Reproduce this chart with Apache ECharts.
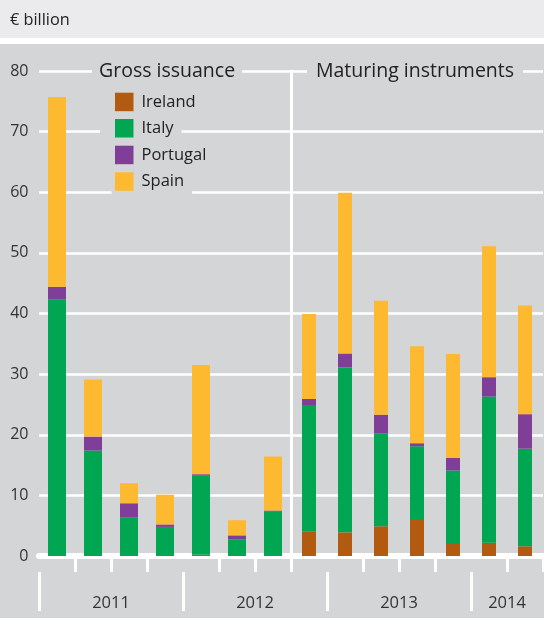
<!DOCTYPE html>
<html>
<head>
<meta charset="utf-8">
<script src="https://cdn.jsdelivr.net/npm/echarts@6/dist/echarts.min.js"></script>
<style>
html,body{margin:0;padding:0;background:#d4d5d7;}
#chart{width:544px;height:618px;}
</style>
</head>
<body>
<div id="chart"></div>
<script>
// ---- data ----
const categories = ['2011 Q1','2011 Q2','2011 Q3','2011 Q4','2012 Q1','2012 Q2','2012 Q3',
                    '2012 Q4','2013 Q1','2013 Q2','2013 Q3','2013 Q4','2014 Q1','2014 Q2'];
const seriesNames = ['Ireland','Italy','Portugal','Spain'];
const ireland  = [0, 0, 0, 0, 0.2, 0, 0,        4.0, 3.9, 4.9, 6.1, 2.0, 2.2, 1.6];
const italy    = [42.3, 17.4, 6.4, 4.8, 13.1, 2.7, 7.3,  20.9, 27.2, 15.3, 12.0, 12.1, 24.1, 16.1];
const portugal = [2.1, 2.3, 2.3, 0.4, 0.2, 0.7, 0.2,   1.0, 2.3, 3.1, 0.5, 2.1, 3.2, 5.7];
const spain    = [31.3, 9.4, 3.3, 4.9, 18.0, 2.5, 8.9,  14.0, 26.5, 18.8, 16.0, 17.1, 21.6, 17.9];
const years = ['2011','2012','2013','2014'];
const quartersPerYear = [4, 4, 4, 2];
const panelTitles = ['Gross issuance', 'Maturing instruments'];
const grossCount = 7;   // first 7 quarters are gross issuance
const unitLabel = '€ billion';

// ---- styles ----
const colors = ['#b15a10', '#00a651', '#7f3f98', '#fdb92f'];
const BG = '#d4d5d7';
const FONT = 'Open Sans';
const TXT = '#222';

const values = [ireland, italy, portugal, spain];
const nQ = categories.length;

// year boundaries / centers in quarter units
const yearStarts = [];
const yearCenters = [];
let acc = 0;
quartersPerYear.forEach(q => { yearStarts.push(acc); yearCenters.push(acc + q / 2); acc += q; });
const shortTicks = [];
for (let i = 0; i <= nQ; i++) if (yearStarts.indexOf(i) < 0) shortTicks.push(i);

const series = [];
seriesNames.forEach((name, k) => {
  series.push({
    name, type: 'bar', stack: 'gross', xAxisIndex: 0, yAxisIndex: 0,
    barWidth: 18, itemStyle: { color: colors[k] },
    data: values[k].slice(0, grossCount)
  });
});
seriesNames.forEach((name, k) => {
  series.push({
    name, type: 'bar', stack: 'mat', xAxisIndex: 1, yAxisIndex: 1,
    barWidth: 14, itemStyle: { color: colors[k] },
    data: values[k].slice(grossCount)
  });
});

const legendPos = [
  { top: 92.7, pad: [0, 0, 0, 0] },
  { top: 119,  pad: [4, 8, 4, 15] },
  { top: 145.7, pad: [0, 0, 0, 0] },
  { top: 172.3, pad: [4, 8, 3.5, 3.5] }
];
const legends = seriesNames.map((name, k) => ({
  data: [name],
  orient: 'vertical',
  left: 115 - legendPos[k].pad[3],
  top: legendPos[k].top - legendPos[k].pad[0],
  padding: legendPos[k].pad,
  backgroundColor: BG,
  itemWidth: 18.5, itemHeight: 18.5,
  icon: 'rect',
  selectedMode: false,
  textStyle: { fontFamily: FONT, fontSize: 16.5, color: TXT, lineHeight: 18, padding: [0, 0, 0, 3] }
}));

const chart = echarts.init(document.getElementById('chart'), null, { renderer: 'canvas' });
chart.setOption({
  backgroundColor: BG,
  animation: false,
  textStyle: { fontFamily: FONT },
  graphic: [
    { type: 'rect', left: 0, top: 0, shape: { width: 544, height: 44 }, style: { fill: '#ffffff' }, z: 0 },
    { type: 'rect', left: 0, top: 0, shape: { width: 544, height: 38 }, style: { fill: '#ebebed' }, z: 0 }
  ],
  title: [
    { text: unitLabel, left: 7, top: 11, padding: [0, 3],
      textStyle: { fontFamily: FONT, fontSize: 16.3, fontWeight: 'normal', color: TXT, lineHeight: 18 } },
    { text: panelTitles[0], left: 92, top: 60, padding: [1, 7], backgroundColor: BG,
      textStyle: { fontFamily: FONT, fontSize: 19.5, fontWeight: 500, color: TXT, lineHeight: 20 } },
    { text: panelTitles[1], left: 307, top: 60, padding: [1, 9], backgroundColor: BG,
      textStyle: { fontFamily: FONT, fontSize: 19.5, fontWeight: 500, color: TXT, lineHeight: 20 } }
  ],
  legend: legends,
  grid: [
    { left: 39, width: 252, top: 71, bottom: 62 },
    { left: 291, width: 252, top: 71, bottom: 62 },
    { left: 39, right: 1, top: 71, bottom: 62 }
  ],
  xAxis: [
    { type: 'category', gridIndex: 0, data: categories.slice(0, grossCount),
      axisLine: { lineStyle: { color: '#fff', width: 6 } }, axisTick: { show: false }, axisLabel: { show: false } },
    { type: 'category', gridIndex: 1, data: categories.slice(grossCount),
      axisLine: { lineStyle: { color: '#fff', width: 6 } }, axisTick: { show: false }, axisLabel: { show: false } },
    { type: 'value', gridIndex: 2, min: 0, max: nQ, offset: 16, position: 'bottom',
      axisLine: { show: false }, splitLine: { show: false },
      axisTick: { show: true, customValues: shortTicks, length: 16, lineStyle: { color: '#fff', width: 3 } },
      axisLabel: { show: true, customValues: yearCenters, margin: 23,
        fontFamily: FONT, fontSize: 16.5, color: '#333',
        formatter: v => { const i = yearCenters.indexOf(v); return i >= 0 ? years[i] : ''; } } },
    { type: 'value', gridIndex: 2, min: 0, max: nQ, offset: 16, position: 'bottom',
      axisLine: { show: false }, splitLine: { show: false },
      axisTick: { show: true, customValues: yearStarts, length: 39, lineStyle: { color: '#fff', width: 3 } },
      axisLabel: { show: false } }
  ],
  yAxis: [
    { type: 'value', gridIndex: 0, min: 0, max: 80, interval: 10,
      axisLine: { show: false }, axisTick: { show: false },
      axisLabel: { margin: 10.5, fontFamily: FONT, fontSize: 16, color: '#333' },
      splitLine: { lineStyle: { color: '#fff', width: 2.5 } } },
    { type: 'value', gridIndex: 1, min: 0, max: 80, interval: 10,
      axisLine: { show: true, lineStyle: { color: '#fff', width: 3 } }, axisTick: { show: false },
      axisLabel: { show: false },
      splitLine: { lineStyle: { color: '#fff', width: 2.5 } } },
    { type: 'value', gridIndex: 2, min: 0, max: 80, show: false }
  ],
  series
});
</script>
</body>
</html>
